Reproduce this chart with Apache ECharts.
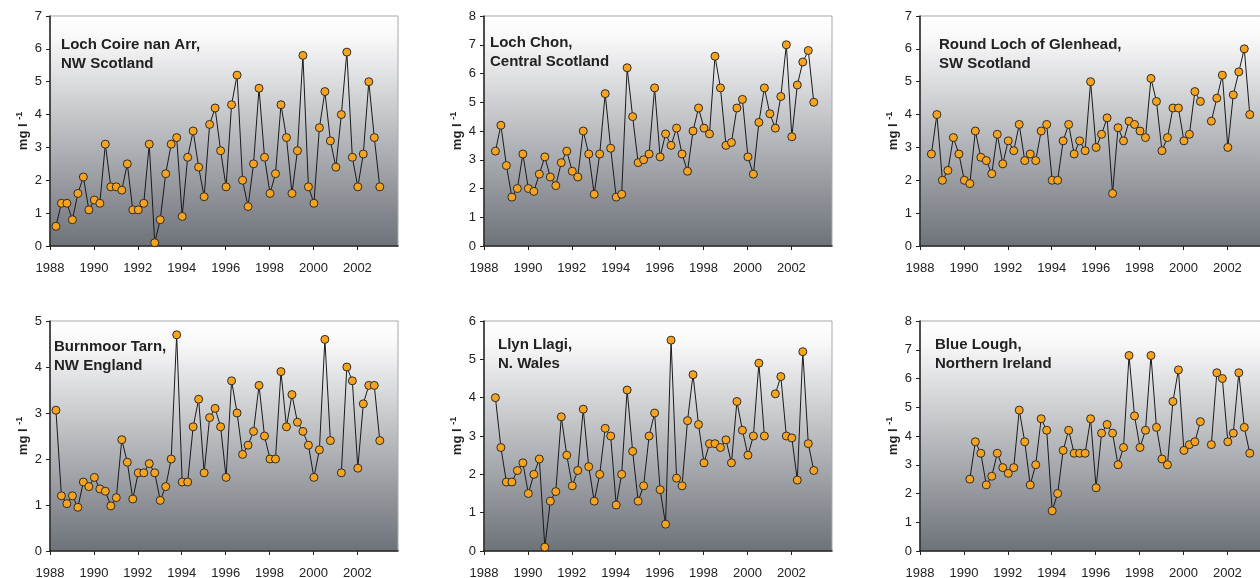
<!DOCTYPE html>
<html>
<head>
<meta charset="utf-8">
<script src="https://cdn.jsdelivr.net/npm/echarts@6/dist/echarts.min.js"></script>
<style>
  html, body { margin: 0; padding: 0; background: #ffffff; }
  #chart { width: 1260px; height: 578px; }
</style>
</head>
<body>
<div id="chart"></div>
<script>
// Quarterly sampling dates (decimal years) shared by all lakes
const sampleDates = [
  1988.27, 1988.52, 1988.77, 1989.02, 1989.27, 1989.52, 1989.77, 1990.02, 1990.27, 1990.52,
  1990.77, 1991.02, 1991.27, 1991.52, 1991.77, 1992.02, 1992.27, 1992.52, 1992.77, 1993.02,
  1993.27, 1993.52, 1993.77, 1994.02, 1994.27, 1994.52, 1994.77, 1995.02, 1995.27, 1995.52,
  1995.77, 1996.02, 1996.27, 1996.52, 1996.77, 1997.02, 1997.27, 1997.52, 1997.77, 1998.02,
  1998.27, 1998.52, 1998.77, 1999.02, 1999.27, 1999.52, 1999.77, 2000.02, 2000.27, 2000.52,
  2000.77, 2001.02, 2001.27, 2001.52, 2001.77, 2002.02, 2002.27, 2002.52, 2002.77, 2003.02
];

// Year labels on the x axes
const yearTicks = [1988, 1990, 1992, 1994, 1996, 1998, 2000, 2002];

// Concentrations in mg l-1 (null = no sample)
const lochCoireNanArr = [
  0.6, 1.3, 1.3, 0.8, 1.6, 2.1, 1.1, 1.4, 1.3, 3.1,
  1.8, 1.8, 1.7, 2.5, 1.1, 1.1, 1.3, 3.1, 0.1, 0.8,
  2.2, 3.1, 3.3, 0.9, 2.7, 3.5, 2.4, 1.5, 3.7, 4.2,
  2.9, 1.8, 4.3, 5.2, 2.0, 1.2, 2.5, 4.8, 2.7, 1.6,
  2.2, 4.3, 3.3, 1.6, 2.9, 5.8, 1.8, 1.3, 3.6, 4.7,
  3.2, 2.4, 4.0, 5.9, 2.7, 1.8, 2.8, 5.0, 3.3, 1.8
];
const lochChon = [
  null, 3.3, 4.2, 2.8, 1.7, 2.0, 3.2, 2.0, 1.9, 2.5,
  3.1, 2.4, 2.1, 2.9, 3.3, 2.6, 2.4, 4.0, 3.2, 1.8,
  3.2, 5.3, 3.4, 1.7, 1.8, 6.2, 4.5, 2.9, 3.0, 3.2,
  5.5, 3.1, 3.9, 3.5, 4.1, 3.2, 2.6, 4.0, 4.8, 4.1,
  3.9, 6.6, 5.5, 3.5, 3.6, 4.8, 5.1, 3.1, 2.5, 4.3,
  5.5, 4.6, 4.1, 5.2, 7.0, 3.8, 5.6, 6.4, 6.8, 5.0
];
const roundLochOfGlenhead = [
  null, 2.8, 4.0, 2.0, 2.3, 3.3, 2.8, 2.0, 1.9, 3.5,
  2.7, 2.6, 2.2, 3.4, 2.5, 3.2, 2.9, 3.7, 2.6, 2.8,
  2.6, 3.5, 3.7, 2.0, 2.0, 3.2, 3.7, 2.8, 3.2, 2.9,
  5.0, 3.0, 3.4, 3.9, 1.6, 3.6, 3.2, 3.8, 3.7, 3.5,
  3.3, 5.1, 4.4, 2.9, 3.3, 4.2, 4.2, 3.2, 3.4, 4.7,
  4.4, null, 3.8, 4.5, 5.2, 3.0, 4.6, 5.3, 6.0, 4.0
];
const burnmoorTarn = [
  3.06, 1.2, 1.03, 1.2, 0.95, 1.5, 1.4, 1.6, 1.35, 1.3,
  0.98, 1.16, 2.42, 1.93, 1.13, 1.7, 1.7, 1.9, 1.7, 1.1,
  1.4, 2.0, 4.7, 1.5, 1.5, 2.7, 3.3, 1.7, 2.9, 3.1,
  2.7, 1.6, 3.7, 3.0, 2.1, 2.3, 2.6, 3.6, 2.5, 2.0,
  2.0, 3.9, 2.7, 3.4, 2.8, 2.6, 2.3, 1.6, 2.2, 4.6,
  2.4, null, 1.7, 4.0, 3.7, 1.8, 3.2, 3.6, 3.6, 2.4
];
const llynLlagi = [
  null, 4.0, 2.7, 1.8, 1.8, 2.1, 2.3, 1.5, 2.0, 2.4,
  0.1, 1.3, 1.55, 3.5, 2.5, 1.7, 2.1, 3.7, 2.2, 1.3,
  2.0, 3.2, 3.0, 1.2, 2.0, 4.2, 2.6, 1.3, 1.7, 3.0,
  3.6, 1.6, 0.7, 5.5, 1.9, 1.7, 3.4, 4.6, 3.3, 2.3,
  2.8, 2.8, 2.7, 2.9, 2.3, 3.9, 3.15, 2.5, 3.0, 4.9,
  3.0, null, 4.1, 4.55, 3.0, 2.95, 1.85, 5.2, 2.8, 2.1
];
const blueLough = [
  null, null, null, null, null, null, null, null, 2.5, 3.8,
  3.4, 2.3, 2.6, 3.4, 2.9, 2.7, 2.9, 4.9, 3.8, 2.3,
  3.0, 4.6, 4.2, 1.4, 2.0, 3.5, 4.2, 3.4, 3.4, 3.4,
  4.6, 2.2, 4.1, 4.4, 4.1, 3.0, 3.6, 6.8, 4.7, 3.6,
  4.2, 6.8, 4.3, 3.2, 3.0, 5.2, 6.3, 3.5, 3.7, 3.8,
  4.5, null, 3.7, 6.2, 6.0, 3.8, 4.1, 6.2, 4.3, 3.4
];

const lakeNames = [
  'Loch Coire nan Arr,\nNW Scotland',
  'Loch Chon,\nCentral Scotland',
  'Round Loch of Glenhead,\nSW Scotland',
  'Burnmoor Tarn,\nNW England',
  'Llyn Llagi,\nN. Wales',
  'Blue Lough,\nNorthern Ireland'
];
const lakeSeries = [lochCoireNanArr, lochChon, roundLochOfGlenhead, burnmoorTarn, llynLlagi, blueLough];
const axisMaxima = [7, 8, 7, 5, 6, 8];

// Panel layout (pixels)
const colLeft = [50, 484, 920];
const rowTop = [16, 321];
const panelW = 348, panelH = 230;
const titlePos = [[61, 35], [490, 33], [939, 35], [54, 337], [498, 335], [935, 335]];

const FONT = '"Liberation Sans", Arial, Helvetica, sans-serif';
const INK = '#222222';

const grids = [], xAxes = [], yAxes = [], series = [], titles = [];

lakeSeries.forEach((vals, i) => {
  const col = i % 3, row = Math.floor(i / 3);
  grids.push({
    left: colLeft[col], top: rowTop[row], width: panelW, height: panelH,
    containLabel: false,
    outerBoundsMode: 'none',
    show: true,
    borderColor: '#a9a9a9', borderWidth: 1,
    backgroundColor: {
      type: 'linear', x: 0, y: 0, x2: 0, y2: 1,
      colorStops: [
        { offset: 0, color: '#ffffff' },
        { offset: 0.1, color: '#f8f8f9' },
        { offset: 1, color: '#6d7279' }
      ]
    }
  });
  xAxes.push({
    type: 'value', gridIndex: i, min: 1988, max: 2003.85,
    splitLine: { show: false },
    axisLine: { show: true, onZero: false, lineStyle: { color: INK, width: 1.5 } },
    axisTick: { show: true, customValues: yearTicks, length: 4, lineStyle: { color: INK, width: 1 } },
    axisLabel: { customValues: yearTicks, margin: 16, color: INK, fontSize: 13, fontFamily: FONT,
                 formatter: v => String(Math.round(v)) }
  });
  yAxes.push({
    type: 'value', gridIndex: i, min: 0, max: axisMaxima[i], interval: 1,
    splitLine: { show: false },
    axisLine: { show: true, lineStyle: { color: INK, width: 1.5 } },
    axisTick: { show: true, length: 4, lineStyle: { color: INK, width: 1 } },
    axisLabel: { margin: 8, color: INK, fontSize: 13, fontFamily: FONT },
    name: '{a|mg l }{b|-1}',
    nameLocation: 'middle', nameRotate: 90, nameGap: 20,
    nameTextStyle: {
      fontFamily: FONT,
      rich: {
        a: { fontSize: 13, fontWeight: 'bold', color: INK, fontFamily: FONT, lineHeight: 15, verticalAlign: 'bottom' },
        b: { fontSize: 9, fontWeight: 'bold', color: INK, fontFamily: FONT, lineHeight: 9, verticalAlign: 'top' }
      }
    }
  });
  series.push({
    type: 'line', xAxisIndex: i, yAxisIndex: i,
    data: sampleDates.map((d, j) => [d, vals[j] == null ? '-' : vals[j]]),
    connectNulls: false,
    symbol: 'circle', symbolSize: 8, showAllSymbol: true,
    lineStyle: { color: '#1a1a1a', width: 1 },
    itemStyle: { color: '#f8a31e', borderColor: '#2b2b2b', borderWidth: 1 },
    emphasis: { disabled: true },
    animation: false
  });
  titles.push({
    text: lakeNames[i], left: titlePos[i][0], top: titlePos[i][1], padding: 0,
    textStyle: { fontFamily: FONT, fontSize: 15, fontWeight: 'bold', color: INK, lineHeight: 19 }
  });
});

const chart = echarts.init(document.getElementById('chart'), null, { renderer: 'canvas' });
chart.setOption({
  animation: false,
  backgroundColor: '#ffffff',
  title: titles,
  grid: grids,
  xAxis: xAxes,
  yAxis: yAxes,
  series: series
});
</script>
</body>
</html>
